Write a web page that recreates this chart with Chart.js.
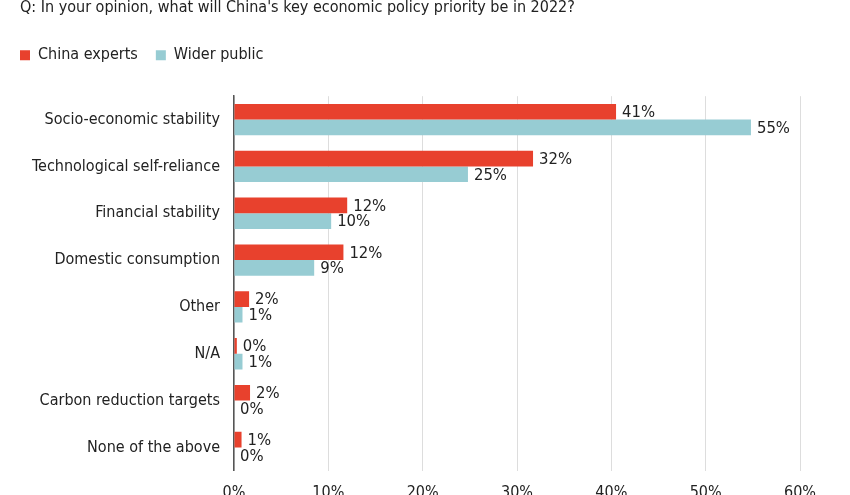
<!DOCTYPE html>
<html>
<head>
<meta charset="utf-8">
<script src="https://cdn.jsdelivr.net/npm/chart.js@4.4.1/dist/chart.umd.min.js"></script>
<style>
  html, body { margin: 0; padding: 0; background: #fff; overflow: hidden; }
  #wrap { position: absolute; left: 0; top: -8px; width: 850px; height: 522px; }
</style>
</head>
<body>
<div id="wrap"><canvas id="chart"></canvas></div>
<script>
// data (percent)
const categories = ['Socio-economic stability', 'Technological self-reliance', 'Financial stability',
  'Domestic consumption', 'Other', 'N/A', 'Carbon reduction targets', 'None of the above'];
const chinaExperts = [40.5, 31.7, 12.0, 11.6, 1.6, 0.3, 1.7, 0.8];
const widerPublic = [54.8, 24.8, 10.3, 8.5, 0.9, 0.9, 0, 0];
const xTicks = [0, 10, 20, 30, 40, 50, 60];

const FONT = "'DejaVu Sans Condensed', 'DejaVu Sans', sans-serif";
const RED = '#e8412d';
const TEAL = '#97ccd3';

// value labels at the end of each bar
const barLabels = {
  id: 'barLabels',
  afterDatasetsDraw(chart) {
    const ctx = chart.ctx;
    ctx.save();
    ctx.font = '16.5px ' + FONT;
    ctx.fillStyle = '#222';
    ctx.textBaseline = 'middle';
    chart.data.datasets.forEach((ds, i) => {
      chart.getDatasetMeta(i).data.forEach((bar, j) => {
        ctx.fillText(Math.round(ds.data[j]) + '%', bar.x + 6, bar.y + 1);
      });
    });
    ctx.restore();
  }
};

// more room under the legend, and legend flush with the title
const legendSpace = {
  id: 'legendSpace',
  beforeInit(chart) {
    const fit = chart.legend.fit;
    chart.legend.fit = function () {
      fit.bind(chart.legend)();
      this.height += 23;
    };
  },
  afterLayout(chart) {
    chart.legend.left -= 18;
    chart.legend.right -= 18;
  }
};

new Chart(document.getElementById('chart'), {
  type: 'bar',
  data: {
    labels: categories,
    datasets: [
      { label: 'China experts', data: chinaExperts, backgroundColor: RED },
      { label: 'Wider public', data: widerPublic, backgroundColor: TEAL }
    ]
  },
  options: {
    indexAxis: 'y',
    responsive: true,
    maintainAspectRatio: false,
    animation: false,
    categoryPercentage: 0.67,
    barPercentage: 1,
    layout: { padding: { left: 20, right: 50, top: 0, bottom: 0 } },
    scales: {
      x: {
        min: 0,
        max: 60,
        afterBuildTicks: scale => { scale.ticks = xTicks.map(v => ({ value: v })); },
        ticks: {
          callback: v => v + '%',
          color: '#222',
          padding: 12,
          font: { family: FONT, size: 16 }
        },
        grid: { color: '#dddddd', lineWidth: 1, drawTicks: false },
        border: { display: false }
      },
      y: {
        afterFit: scale => { scale.width = 214; },
        ticks: {
          color: '#222',
          padding: 14,
          font: { family: FONT, size: 16 }
        },
        grid: { display: false, drawTicks: false },
        border: { display: true, color: '#555', width: 1.5 }
      }
    },
    plugins: {
      title: {
        display: true,
        text: "Q: In your opinion, what will China's key economic policy priority be in 2022?",
        align: 'start',
        color: '#222',
        font: { family: FONT, size: 16, weight: 'normal' },
        padding: { top: 6, bottom: 12 }
      },
      legend: {
        align: 'start',
        labels: {
          boxWidth: 10,
          boxHeight: 10,
          padding: 18,
          color: '#222',
          font: { family: FONT, size: 16 }
        }
      },
      tooltip: { enabled: false }
    }
  },
  plugins: [barLabels, legendSpace]
});
</script>
</body>
</html>
